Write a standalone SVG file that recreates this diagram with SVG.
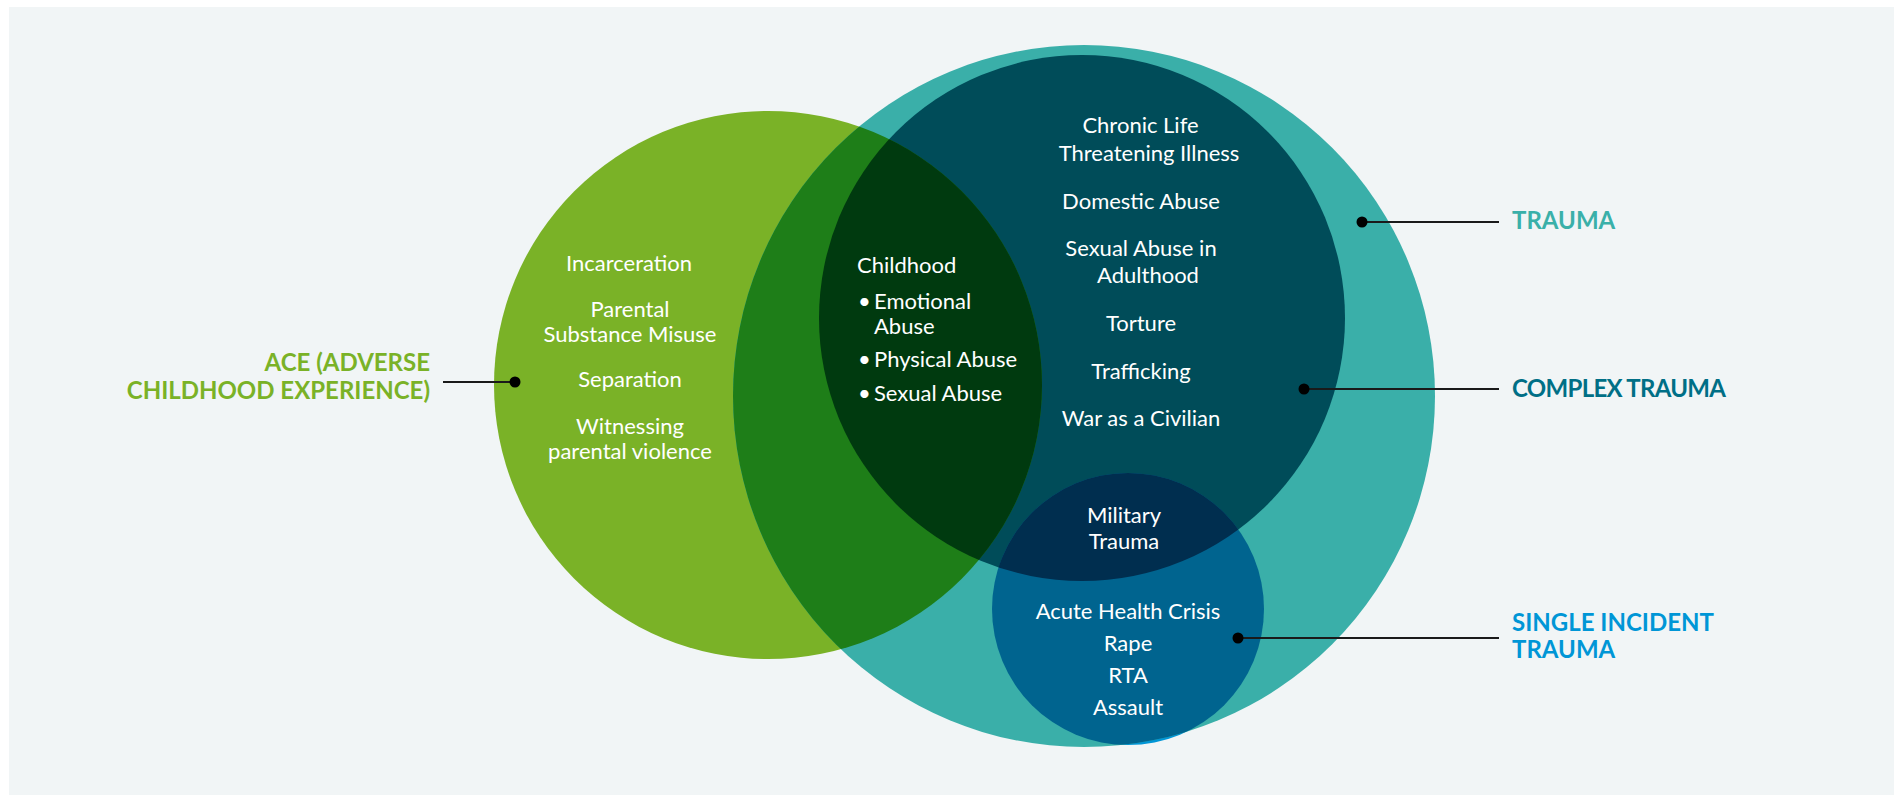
<svg xmlns="http://www.w3.org/2000/svg" width="1894" height="795" viewBox="0 0 1894 795">
<style>
.item{font-family:Lato,"Open Sans","Liberation Sans",sans-serif;font-size:22px;fill:#ffffff;}
.mid{text-anchor:middle;}
.lbl{font-family:Lato,"Open Sans","Liberation Sans",sans-serif;font-size:24px;font-weight:700;}
.lead{stroke:#1a1a1a;stroke-width:2;fill:none;}
.dot{fill:#000000;}
</style>
<defs>
<clipPath id="clipTrauma"><circle cx="1084" cy="396" r="351"/></clipPath>
<clipPath id="clipComplex"><circle cx="1082" cy="318" r="263"/></clipPath>
</defs>
<rect x="0" y="0" width="1894" height="795" fill="#ffffff"/>
<rect x="9" y="7" width="1885" height="788" fill="#f1f5f6"/>
<g id="circles">
<circle id="c-ace" cx="768" cy="385" r="274" fill="#7ab227"/>
<circle id="c-single-base" cx="1128" cy="609" r="136" fill="#0096d6"/>
<circle id="c-trauma" cx="1084" cy="396" r="351" fill="#3aafa9"/>
<circle id="c-complex" cx="1082" cy="318" r="263" fill="#004c59"/>
</g>
<g id="overlaps">
<circle cx="1128" cy="609" r="136" fill="#00648f" clip-path="url(#clipTrauma)"/>
<circle cx="1128" cy="609" r="136" fill="#002e4f" clip-path="url(#clipComplex)"/>
<circle cx="768" cy="385" r="274" fill="#1e7e18" clip-path="url(#clipTrauma)"/>
<circle cx="768" cy="385" r="274" fill="#003a0f" clip-path="url(#clipComplex)"/>
</g>
<g id="connectors">
<line class="lead" x1="443" y1="382" x2="515" y2="382"/>
<circle class="dot" cx="515" cy="382" r="5.5"/>
<line class="lead" x1="1362" y1="222" x2="1499" y2="222"/>
<circle class="dot" cx="1362" cy="222" r="5.5"/>
<line class="lead" x1="1304" y1="389" x2="1499" y2="389"/>
<circle class="dot" cx="1304" cy="389" r="5.5"/>
<line class="lead" x1="1238" y1="638" x2="1499" y2="638"/>
<circle class="dot" cx="1238" cy="638" r="5.5"/>
</g>
<g id="node-ace">
<text class="lbl" fill="#7ab227" text-anchor="end" x="430" y="371">ACE (ADVERSE</text>
<text class="lbl" fill="#7ab227" text-anchor="end" x="430" y="398.5">CHILDHOOD EXPERIENCE)</text>
<text class="item mid" x="629" y="271">Incarceration</text>
<text class="item mid" x="630" y="317">Parental</text>
<text class="item mid" x="630" y="342">Substance Misuse</text>
<text class="item mid" x="630" y="387">Separation</text>
<text class="item mid" x="630" y="434">Witnessing</text>
<text class="item mid" x="630" y="459">parental violence</text>
</g>
<g id="node-childhood">
<text class="item" x="857" y="273">Childhood</text>
<text class="item" x="858" y="309">•</text>
<text class="item" x="874" y="309">Emotional</text>
<text class="item" x="874" y="334">Abuse</text>
<text class="item" x="858" y="367">•</text>
<text class="item" x="874" y="367">Physical Abuse</text>
<text class="item" x="858" y="401">•</text>
<text class="item" x="874" y="401">Sexual Abuse</text>
</g>
<g id="node-trauma">
<text class="lbl" fill="#3ab0a9" x="1512" y="228.5">TRAUMA</text>
</g>
<g id="node-complex">
<text class="lbl" fill="#006f86" x="1512" y="397" textLength="214">COMPLEX TRAUMA</text>
<text class="item mid" x="1140.5" y="133">Chronic Life</text>
<text class="item mid" x="1149" y="160.5">Threatening Illness</text>
<text class="item mid" x="1141" y="209">Domestic Abuse</text>
<text class="item mid" x="1141" y="256">Sexual Abuse in</text>
<text class="item mid" x="1148" y="283">Adulthood</text>
<text class="item mid" x="1141" y="331">Torture</text>
<text class="item mid" x="1141" y="379">Trafficking</text>
<text class="item mid" x="1141" y="426">War as a Civilian</text>
</g>
<g id="node-single">
<text class="lbl" fill="#0096d6" x="1512" y="630.5">SINGLE INCIDENT</text>
<text class="lbl" fill="#0096d6" x="1512" y="658">TRAUMA</text>
<text class="item mid" x="1124" y="523">Military</text>
<text class="item mid" x="1124" y="549">Trauma</text>
<text class="item mid" x="1128" y="619">Acute Health Crisis</text>
<text class="item mid" x="1128" y="651">Rape</text>
<text class="item mid" x="1128" y="683">RTA</text>
<text class="item mid" x="1128" y="715">Assault</text>
</g>
</svg>
